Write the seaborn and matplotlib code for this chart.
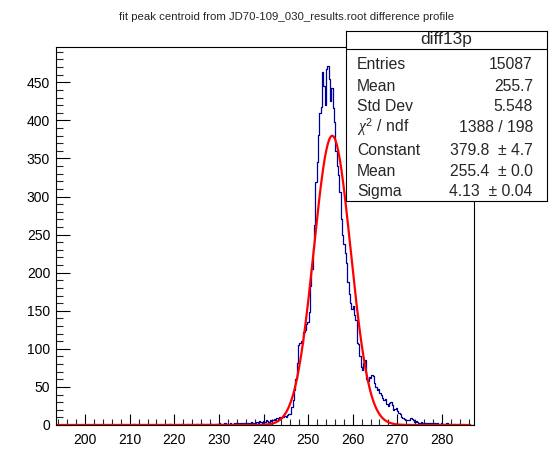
import numpy as np
import pandas as pd
import matplotlib
matplotlib.use('Agg')
import matplotlib.pyplot as plt
import seaborn as sns

# histogram: 313 bins of 0.3 starting at 193.4
x_lo = 193.4
bin_w = 0.3
counts = [
    0, 0, 0, 0, 0, 0, 0, 0, 0, 0,
    0, 0, 0, 0, 0, 0, 0, 0, 0, 0,
    0, 0, 0, 0, 0, 0, 0, 0, 0, 0,
    0, 0, 0, 0, 0, 0, 0, 0, 0, 0,
    0, 0, 0, 0, 0, 0, 0, 0, 0, 0,
    0, 0, 0, 0, 0, 0, 0, 0, 1, 0,
    0, 0, 0, 0, 0, 0, 0, 0, 0, 0,
    0, 0, 0, 0, 0, 0, 0, 0, 0, 0,
    0, 0, 0, 0, 0, 1, 0, 0, 0, 0,
    0, 0, 0, 0, 1, 0, 0, 0, 1, 0,
    0, 1, 0, 0, 0, 1, 0, 0, 1, 0,
    1, 0, 0, 1, 0, 1, 1, 0, 0, 1,
    1, 0, 2, 1, 0, 1, 2, 1, 1, 0,
    2, 1, 1, 3, 1, 2, 1, 2, 2, 1,
    2, 3, 1, 2, 3, 2, 4, 2, 3, 3,
    4, 3, 5, 4, 3, 5, 4, 6, 5, 4,
    6, 5, 7, 8, 6, 9, 8, 10, 9, 11,
    10, 12, 11, 13, 15, 14, 24, 33, 46, 60,
    81, 105, 108, 110, 108, 122, 125, 132, 135, 148,
    182, 205, 232, 262, 319, 345, 381, 410, 418, 463,
    445, 420, 468, 472, 455, 425, 442, 416, 398, 360,
    340, 328, 306, 270, 250, 238, 226, 213, 188, 172,
    160, 152, 156, 145, 138, 108, 106, 90, 76, 72,
    82, 85, 60, 58, 63, 62, 66, 64, 55, 50,
    46, 47, 42, 40, 36, 33, 34, 27, 25, 29,
    30, 26, 20, 21, 22, 18, 16, 14, 11, 9,
    8, 7, 7, 6, 6, 9, 8, 6, 4, 5,
    4, 3, 3, 4, 2, 3, 2, 2, 3, 2,
    2, 1, 2, 2, 1, 2, 1, 1, 2, 1,
    1, 1, 2, 1, 0, 1, 1, 0, 1, 0,
    0, 1, 0, 0, 1, 0, 0, 0, 0, 1,
    0, 0, 0,
]

# gaussian fit parameters (from the stats box)
fit_const = 379.8
fit_mean = 255.4
fit_sigma = 4.13
fit_hi = 286.3

stat_labels = ['Entries', 'Mean', 'Std Dev', r'$\chi^{2}$ / ndf', 'Constant', 'Mean', 'Sigma']
stat_values = ['15087', '255.7', '5.548', '1388 / 198', '379.8  ± 4.7', '255.4  ± 0.0', '4.13  ± 0.04']
hist_name = 'diff13p'
title = 'fit peak centroid from JD70-109_030_results.root difference profile'

n = len(counts)
edges = x_lo + bin_w * np.arange(n + 1)
centers = edges[:-1] + bin_w / 2
df = pd.DataFrame({'x': centers, 'w': np.array(counts, dtype=float)})

xf = np.linspace(x_lo, fit_hi, 600)
fit = pd.DataFrame({'x': xf, 'y': fit_const * np.exp(-0.5 * ((xf - fit_mean) / fit_sigma) ** 2)})

sns.set_style('ticks')
plt.rcParams['font.family'] = ['Liberation Sans', 'DejaVu Sans']
plt.rcParams['mathtext.fontset'] = 'custom'
plt.rcParams['mathtext.rm'] = 'Liberation Sans'
plt.rcParams['mathtext.it'] = 'Liberation Serif:italic'

fig = plt.figure(figsize=(5.58, 4.74), dpi=100)
ax = fig.add_axes([0.0998, 0.1034, 0.7497, 0.7968])

sns.histplot(data=df, x='x', weights='w', bins=edges.tolist(), element='step', fill=False,
             color='#000099', linewidth=0.9, ax=ax)
sns.lineplot(data=fit, x='x', y='y', color='#ff0000', linewidth=1.6, ax=ax)

ax.set_xlim(x_lo, 287.2)
ax.set_ylim(0, 496)
ax.set_xlabel('')
ax.set_ylabel('')
ax.set_xticks(np.arange(200, 281, 10))
ax.set_xticks(np.arange(194, 287.2, 2), minor=True)
ax.set_yticks(np.arange(0, 451, 50))
ax.set_yticks(np.arange(0, 496, 10), minor=True)
ax.tick_params(axis='x', which='major', direction='in', length=8, width=0.8, pad=6, labelsize=10, colors='black')
ax.tick_params(axis='x', which='minor', direction='in', length=4, width=0.8)
ax.tick_params(axis='y', which='major', direction='in', length=10, width=0.8, pad=4, labelsize=10, colors='black')
ax.tick_params(axis='y', which='minor', direction='in', length=5, width=0.8)
for s in ax.spines.values():
    s.set_visible(True)
    s.set_color('black')
    s.set_linewidth(0.8)

fig.text(0.513, 0.965, title, ha='center', va='center', fontsize=8.2)

# stats box
box = fig.add_axes([0.620, 0.576, 0.360, 0.359])
box.set_xlim(0, 1)
box.set_ylim(0, 1)
box.set_xticks([])
box.set_yticks([])
box.set_facecolor('white')
for s in box.spines.values():
    s.set_color('black')
    s.set_linewidth(0.8)
box.axhline(0.894, color='black', linewidth=0.8)
box.text(0.5, 0.947, hist_name, ha='center', va='center', fontsize=12.5)
row_y = [0.802, 0.675, 0.555, 0.432, 0.298, 0.175, 0.058]
for lab, val, yy in zip(stat_labels, stat_values, row_y):
    box.text(0.055, yy, lab, ha='left', va='center', fontsize=11.3)
    box.text(0.93, yy, val, ha='right', va='center', fontsize=11.3)

fig.savefig('out.png', dpi=100)
